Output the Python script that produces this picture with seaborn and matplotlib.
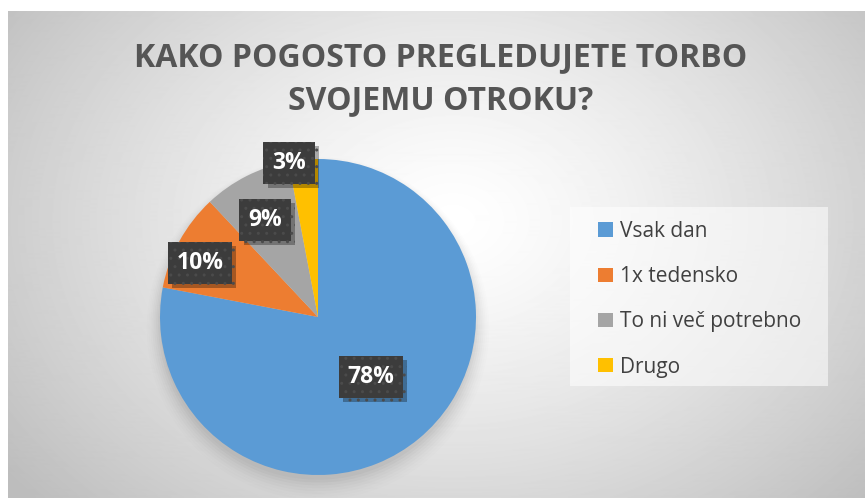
import numpy as np
import matplotlib.pyplot as plt
import seaborn as sns
from matplotlib import patheffects as pe

sns.set_theme(style="white")
plt.rcParams['font.family'] = ['Open Sans', 'DejaVu Sans']

# --- podatki ---
kategorije = ['Vsak dan', '1x tedensko', 'To ni več potrebno', 'Drugo']
odstotki = [78, 10, 9, 3]
barve = ['#5B9BD5', '#ED7D31', '#A5A5A5', '#FFC000']
naslov = 'KAKO POGOSTO PREGLEDUJETE TORBO\nSVOJEMU OTROKU?'

# polozaji oznak (v enotah polmera pite)
polozaji_oznak = [(0.335, -0.38), (-0.747, 0.342), (-0.335, 0.614), (-0.184, 0.975)]

W, H = 865, 498
fig = plt.figure(figsize=(W / 100, H / 100), dpi=100)

# --- ozadje z radialnim prelivom ---
ax_bg = fig.add_axes([8 / W, 0, (W - 8) / W, (H - 11) / H])
yy, xx = np.mgrid[0:H - 11, 0:W - 8]
cx, cy = 445, 210
r = np.sqrt(((xx - cx) / 560) ** 2 + ((yy - cy) / 420) ** 2)
r = np.clip(r, 0, 1)
siva = 1 - 0.26 * r ** 1.3
ax_bg.imshow(siva, cmap='gray', vmin=0, vmax=1, aspect='auto', interpolation='bilinear')
ax_bg.axis('off')

# ozadje legende
ax_bg.add_patch(plt.Rectangle((570 - 8, 206 - 11), 828 - 570, 385 - 206,
                              facecolor='white', alpha=0.55, lw=0))

# --- pita ---
cx_p, cy_p, rad = 318, 317, 158
ax = fig.add_axes([(cx_p - rad) / W, (H - cy_p - rad) / H, 2 * rad / W, 2 * rad / H])

wedges, _ = ax.pie(odstotki, colors=barve, startangle=90, counterclock=False,
                   radius=1, wedgeprops=dict(linewidth=0))
for w in wedges:
    w.set_zorder(2)
ax.set_xlim(-1, 1)
ax.set_ylim(-1, 1)
ax.axis('off')

# senca pod pito
for i, a in enumerate(np.linspace(0.05, 0.012, 8)):
    ax.add_patch(plt.Circle((0.0, -0.03 - i * 0.006), 1.0 + i * 0.012, color='black',
                            alpha=a * 0.5, lw=0, zorder=0, clip_on=False))

for (x, y), p in zip(polozaji_oznak, odstotki):
    t = ax.text(x, y, f'{p}%', ha='center', va='center', color='white',
                fontsize=16.5, fontweight='bold', zorder=5,
                bbox=dict(boxstyle='square,pad=0.38', facecolor='#3c3c3c',
                          edgecolor='#4b4b4b', hatch='..', linewidth=0))
    t.get_bbox_patch().set_path_effects([
        pe.SimplePatchShadow(offset=(3, -3), shadow_rgbFace='black', alpha=0.3),
        pe.Normal()])

# --- naslov ---
fig.text(441 / W, 1 - 79 / H, naslov, ha='center', va='center', fontsize=23,
         fontweight='bold', color='#555555', linespacing=1.38)

# --- legenda ---
leg = fig.legend(wedges, kategorije, loc='upper left',
                 bbox_to_anchor=(598 / W, 1 - 221 / H), bbox_transform=fig.transFigure,
                 fontsize=15, frameon=False, handlelength=0.7, handleheight=0.7,
                 handletextpad=0.35, labelspacing=1.16, borderpad=0, borderaxespad=0)
for txt in leg.get_texts():
    txt.set_color('#404040')

fig.savefig('out.png', dpi=100)
